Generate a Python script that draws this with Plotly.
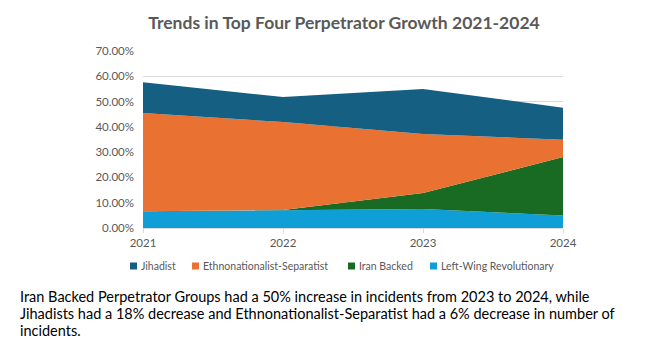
import plotly.graph_objects as go

years = [2021, 2022, 2023, 2024]
left_wing = [6.6, 7.1, 7.5, 4.9]
iran_backed = [0.0, 0.0, 6.3, 23.2]
ethno = [38.9, 34.8, 23.4, 6.8]
jihadist = [12.1, 9.9, 17.8, 12.7]

series = [
    ("Left-Wing Revolutionary", left_wing, "#0F9ED5"),
    ("Iran Backed", iran_backed, "#196B24"),
    ("Ethnonationalist-Separatist", ethno, "#E97132"),
    ("Jihadist", jihadist, "#156082"),
]

y_ticks = [0, 10, 20, 30, 40, 50, 60, 70]
y_tick_labels = [f"{v:.2f}%" for v in y_ticks]

title_text = "Trends in Top Four Perpetrator Growth 2021-2024"
caption_lines = [
    "Iran Backed Perpetrator Groups had a 50% increase in incidents from 2023 to 2024, while",
    "Jihadists had a 18% decrease and Ethnonationalist-Separatist had a 6% decrease in number of",
    "incidents.",
]

fig = go.Figure()
for name, vals, color in series:
    fig.add_trace(go.Scatter(
        x=years, y=vals, name=name, mode="lines",
        stackgroup="one", line=dict(width=0, color=color),
        fillcolor=color,
    ))

axis_font = dict(family="Lato, Arial, sans-serif", size=11.5, color="#595959")
OFF = 8  # page body margin
W = 663 - OFF
H = 356 - OFF
L, T = 143 - OFF, 51 - OFF
R = W - (563 - OFF)
B = H - (228 - OFF)
PH = H - T - B
PW = W - L - R


def px_x(px):
    return (px - OFF - L) / PW


def px_y(py):
    return 1 - (py - OFF - T) / PH


fig.update_layout(
    width=W, height=H,
    margin=dict(l=L, r=R, t=T, b=B, autoexpand=False),
    paper_bgcolor="white", plot_bgcolor="white",
    title=dict(text=f"<b>{title_text}</b>", x=(344 - OFF) / W, xanchor="center",
               y=1 - (23 - OFF) / H, yanchor="middle", xref="container", yref="container",
               font=dict(family="Lato, Arial, sans-serif", size=17.5, color="#595959")),
    showlegend=False,
    xaxis=dict(range=[2021, 2024], tickvals=years, ticktext=[str(y) for y in years],
               showgrid=False, zeroline=False, showline=True, linecolor="#D9D9D9",
               ticks="outside", ticklen=4, tickcolor="#D9D9D9", tickfont=axis_font,
               automargin=False),
    yaxis=dict(range=[0, 70], tickvals=y_ticks, ticktext=y_tick_labels,
               showgrid=True, gridcolor="#D9D9D9", zeroline=False, showline=False,
               ticks="", tickfont=axis_font, ticklabelstandoff=8, automargin=False),
)

# Legend (drawn as swatches + text, in the reference order)
legend_swatch_px = [130, 192, 348, 430]
legend_y_px = 266
for (name, _, color), sx in zip(reversed(series), legend_swatch_px):
    fig.add_shape(type="rect", xref="paper", yref="paper",
                  x0=px_x(sx), x1=px_x(sx + 7), y0=px_y(legend_y_px + 3.5), y1=px_y(legend_y_px - 3.5),
                  fillcolor=color, line=dict(width=0))
    fig.add_annotation(text=name, xref="paper", yref="paper",
                       x=px_x(sx + 9), y=px_y(legend_y_px), xanchor="left", yanchor="middle",
                       showarrow=False,
                       font=dict(family="Lato, Arial, sans-serif", size=10.5, color="#595959"))

for i, line in enumerate(caption_lines):
    fig.add_annotation(
        text=line, xref="paper", yref="paper",
        x=px_x(18), y=px_y(296 + 17 * i), xanchor="left", yanchor="middle",
        align="left", showarrow=False,
        font=dict(family="Lato, Arial, sans-serif", size=14.5, color="#000000"),
    )

fig.write_html("out.html")
